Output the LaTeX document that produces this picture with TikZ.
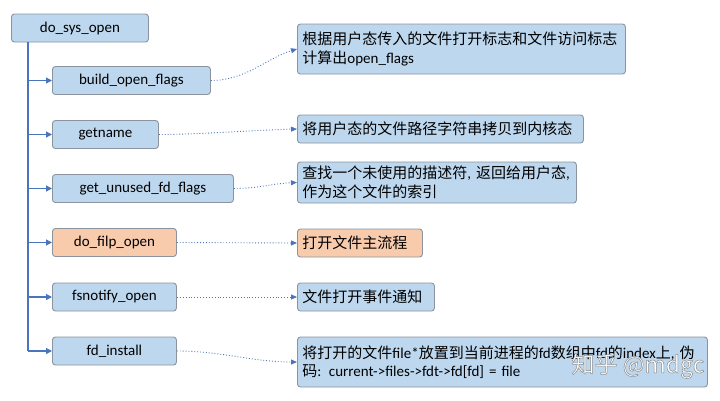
\documentclass[tikz,border=0pt]{standalone}
\usepackage{fontspec}
\setmainfont{Carlito}
\newfontfamily\cjk{Noto Sans CJK SC}
\usetikzlibrary{arrows.meta,calc}
\definecolor{boxblue}{HTML}{BDD7EE}
\definecolor{boxorange}{HTML}{F8CBAD}
\definecolor{edgegray}{HTML}{8A939E}
\definecolor{lineblue}{HTML}{4A74C0}
\begin{document}
\begin{tikzpicture}[x=1pt,y=-1pt,
  font=\fontsize{15}{18.5}\selectfont,
  fnbox/.style={draw=edgegray, fill=boxblue, rounded corners=3pt, line width=0.9pt,
    minimum height=28pt, inner sep=0pt, anchor=west},
  hotbox/.style={fnbox, fill=boxorange},
  descbox/.style={draw=edgegray, fill=boxblue, rounded corners=3pt, line width=0.9pt,
    inner xsep=5pt, inner ysep=0pt, anchor=west, align=left},
  trunkline/.style={draw=lineblue, line width=1.1pt},
  trunkarrow/.style={trunkline, -{Triangle[length=6pt,width=6pt]}},
  dotarrow/.style={draw=lineblue, line width=0.9pt, dotted, -{Triangle[length=6pt,width=5pt]}}
]
\useasboundingbox (0,0) rectangle (720,400);

% left column
\node[fnbox, minimum width=137pt] (sys) at (11,28) {do\_sys\_open};
\node[fnbox, minimum width=158pt] (bof) at (52,80.5) {build\_open\_flags};
\node[fnbox, minimum width=106pt] (gn) at (52,134.5) {getname};
\node[fnbox, minimum width=181pt] (guf) at (52,188.5) {get\_unused\_fd\_flags};
\node[hotbox, minimum width=124pt] (dfo) at (52,242.5) {do\_filp\_open};
\node[fnbox, minimum width=124pt] (fso) at (52,297) {fsnotify\_open};
\node[fnbox, minimum width=124pt] (fdi) at (52,351) {fd\_install};

% right column
\node[descbox, text width=318pt, minimum height=50pt] (d1) at (297,49)
  {{\cjk 根据用户态传入的文件打开标志和文件访问标志}\\{\cjk 计算出}open\_flags};
\node[descbox, text width=276pt, minimum height=28pt] (d2) at (297,129)
  {{\cjk 将用户态的文件路径字符串拷贝到内核态}};
\node[descbox, text width=269pt, minimum height=41pt] (d3) at (297,182.5)
  {{\cjk 查找一个未使用的描述符},~{\cjk 返回给用户态},\\{\cjk 作为这个文件的索引}};
\node[descbox, fill=boxorange, text width=115pt, minimum height=28pt] (d4) at (297,243)
  {{\cjk 打开文件主流程}};
\node[descbox, text width=127pt, minimum height=28pt] (d5) at (297,297)
  {{\cjk 文件打开事件通知}};
\node[descbox, text width=400pt, minimum height=50pt] (d6) at (297,362)
  {{\cjk 将打开的文件}file*{\cjk 放置到当前进程的}fd{\cjk 数组中}fd{\cjk 的}index{\cjk 上},~{\cjk 伪}\\{\cjk 码}: current->files->fdt->fd[fd] = file};

% trunk
\coordinate (trunk) at ($(sys.south west)+(17,0)$);
\draw[trunkline] (trunk) -- (trunk |- fdi.west);
\foreach \c in {bof,gn,guf,dfo,fso,fdi}
  \draw[trunkarrow] (trunk |- \c.west) -- (\c.west);

% dotted connectors
\draw[dotarrow] (bof.east) .. controls +(35,0) and +(-30,9) .. (d1.west);
\draw[dotarrow] (gn.east) .. controls +(40,0) and +(-40,1) .. (d2.west);
\draw[dotarrow] (guf.east) .. controls +(25,0) and +(-25,1) .. (d3.west);
\draw[dotarrow] (dfo.east) -- (d4.west);
\draw[dotarrow] (fso.east) -- (d5.west);
\draw[dotarrow] (fdi.east) .. controls +(45,0) and +(-45,0) .. (d6.west);

% watermark (white letters with a grey outline)
\node[font=\cjk\fontsize{23}{23}\selectfont, text=white, anchor=center] (wm) at (638,366)
  {\special{pdf:literal direct 0.55 G 0.5 w 2 Tr}知乎 @mdgc\special{pdf:literal direct 0 Tr}};
\end{tikzpicture}
\end{document}
